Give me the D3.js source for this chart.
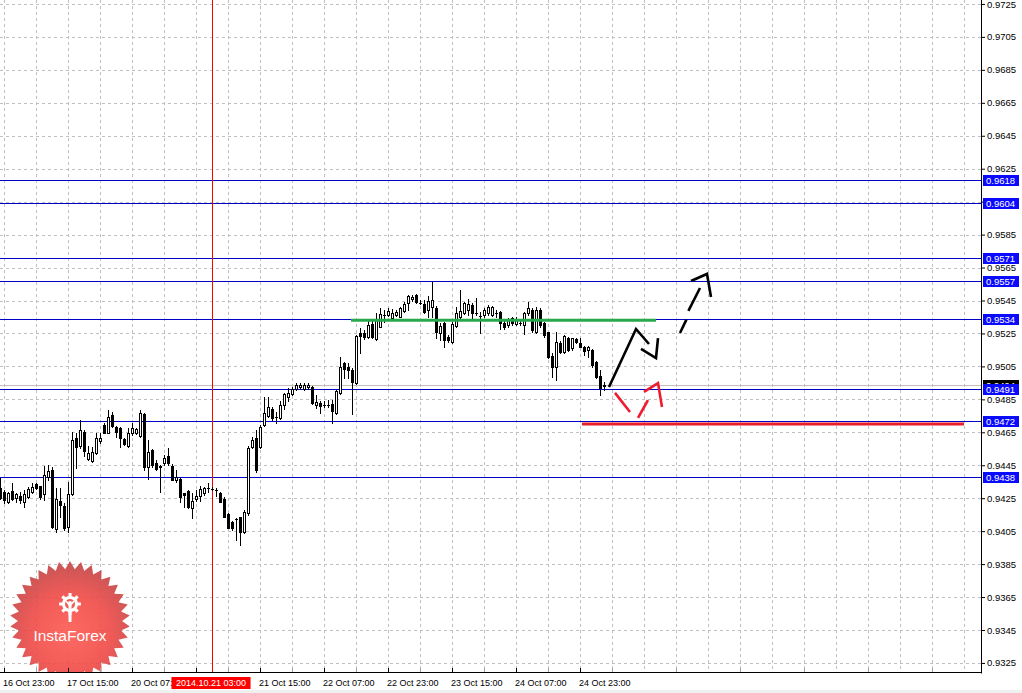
<!DOCTYPE html>
<html><head><meta charset="utf-8">
<script src="https://cdn.jsdelivr.net/npm/d3@7"></script>
<style>
html,body{margin:0;padding:0;background:#fff;}
svg{display:block;}
text{font-family:"Liberation Sans",Arial,sans-serif;}
</style></head><body>
<svg id="c" width="1022" height="693"></svg>
<script>
// ---- DATA (H1 candles) ----
const open=[0.94311,0.94288,0.94227,0.94294,0.94251,0.94264,0.94227,0.94258,0.94288,0.94336,
0.94324,0.94276,0.94379,0.94421,0.94063,0.94233,0.94203,0.94075,0.94276,0.94615,
0.94567,0.94652,0.94488,0.94476,0.94525,0.94597,0.94695,0.94646,0.94755,0.94682,
0.94676,0.94609,0.94567,0.94646,0.94646,0.94627,0.94761,0.94440,0.94543,0.94464,
0.94446,0.94464,0.94507,0.94446,0.94360,0.94366,0.94282,0.94294,0.94191,0.94245,
0.94264,0.94282,0.94311,0.94305,0.94300,0.94282,0.94245,0.94154,0.94106,0.94124,
0.94136,0.94045,0.94160,0.94561,0.94615,0.94561,0.94695,0.94749,0.94791,0.94743,
0.94737,0.94816,0.94864,0.94882,0.94913,0.94925,0.94913,0.94925,0.94925,0.94816,
0.94828,0.94816,0.94816,0.94822,0.94767,0.94888,0.95071,0.95046,0.95028,0.94949,
0.95253,0.95253,0.95229,0.95308,0.95216,0.95290,0.95362,0.95362,0.95344,0.95362,
0.95350,0.95386,0.95435,0.95459,0.95483,0.95435,0.95429,0.95392,0.95410,0.95404,
0.95253,0.95314,0.95229,0.95198,0.95296,0.95350,0.95374,0.95392,0.95423,0.95374,
0.95356,0.95362,0.95374,0.95362,0.95374,0.95380,0.95314,0.95302,0.95344,0.95308,
0.95314,0.95302,0.95374,0.95392,0.95259,0.95392,0.95314,0.95259,0.95113,0.95046,
0.95192,0.95138,0.95222,0.95162,0.95216,0.95192,0.95168,0.95150,0.95150,0.95077,
0.94992,0.94931];
const high=[0.94372,0.94300,0.94288,0.94342,0.94282,0.94288,0.94300,0.94318,0.94342,0.94342,
0.94324,0.94446,0.94452,0.94440,0.94311,0.94311,0.94221,0.94348,0.94652,0.94646,
0.94725,0.94664,0.94567,0.94561,0.94646,0.94646,0.94707,0.94785,0.94773,0.94688,
0.94682,0.94615,0.94676,0.94707,0.94676,0.94785,0.94767,0.94603,0.94549,0.94482,
0.94452,0.94513,0.94555,0.94458,0.94421,0.94372,0.94282,0.94300,0.94282,0.94300,
0.94324,0.94318,0.94342,0.94318,0.94311,0.94288,0.94258,0.94160,0.94112,0.94130,
0.94136,0.94178,0.94567,0.94621,0.94664,0.94695,0.94864,0.94864,0.94803,0.94773,
0.94840,0.94888,0.94919,0.94925,0.94949,0.94949,0.94949,0.94949,0.94931,0.94876,
0.94840,0.94840,0.94846,0.94846,0.94907,0.95107,0.95077,0.95071,0.95040,0.95241,
0.95283,0.95271,0.95332,0.95332,0.95374,0.95404,0.95392,0.95404,0.95398,0.95392,
0.95410,0.95441,0.95483,0.95483,0.95489,0.95453,0.95453,0.95477,0.95562,0.95416,
0.95314,0.95320,0.95241,0.95320,0.95410,0.95514,0.95441,0.95459,0.95435,0.95465,
0.95380,0.95404,0.95423,0.95416,0.95392,0.95386,0.95332,0.95344,0.95350,0.95350,
0.95332,0.95380,0.95441,0.95404,0.95410,0.95404,0.95320,0.95259,0.95132,0.95259,
0.95204,0.95241,0.95229,0.95222,0.95222,0.95222,0.95174,0.95174,0.95156,0.95083,
0.95028,0.94955];
const low=[0.94245,0.94221,0.94221,0.94239,0.94227,0.94221,0.94197,0.94251,0.94282,0.94305,
0.94245,0.94239,0.94360,0.94069,0.94045,0.94136,0.94057,0.94045,0.94270,0.94433,
0.94555,0.94507,0.94482,0.94470,0.94519,0.94585,0.94646,0.94646,0.94682,0.94621,
0.94561,0.94573,0.94561,0.94634,0.94640,0.94621,0.94421,0.94366,0.94440,0.94421,
0.94288,0.94452,0.94452,0.94360,0.94348,0.94227,0.94197,0.94191,0.94130,0.94233,
0.94233,0.94270,0.94288,0.94300,0.94264,0.94227,0.94136,0.94069,0.94057,0.93996,
0.93966,0.94039,0.94148,0.94555,0.94409,0.94555,0.94688,0.94743,0.94725,0.94707,
0.94731,0.94791,0.94840,0.94876,0.94907,0.94919,0.94907,0.94913,0.94822,0.94797,
0.94767,0.94803,0.94803,0.94707,0.94761,0.94882,0.94979,0.94979,0.94761,0.94943,
0.95132,0.95216,0.95222,0.95222,0.95210,0.95290,0.95320,0.95356,0.95338,0.95356,
0.95350,0.95380,0.95392,0.95447,0.95435,0.95429,0.95374,0.95350,0.95350,0.95222,
0.95210,0.95168,0.95198,0.95192,0.95290,0.95332,0.95368,0.95362,0.95332,0.95362,
0.95253,0.95350,0.95362,0.95356,0.95350,0.95277,0.95277,0.95290,0.95302,0.95302,
0.95302,0.95247,0.95362,0.95259,0.95253,0.95290,0.95229,0.95101,0.94985,0.94967,
0.95132,0.95132,0.95144,0.95150,0.95192,0.95168,0.95120,0.95107,0.95046,0.94979,
0.94876,0.94907];
const close=[0.94251,0.94239,0.94282,0.94245,0.94276,0.94239,0.94276,0.94305,0.94318,0.94311,
0.94258,0.94391,0.94415,0.94075,0.94245,0.94209,0.94069,0.94276,0.94603,0.94561,
0.94664,0.94537,0.94525,0.94531,0.94615,0.94615,0.94646,0.94743,0.94688,0.94652,
0.94615,0.94579,0.94646,0.94676,0.94670,0.94767,0.94440,0.94531,0.94452,0.94427,
0.94440,0.94494,0.94464,0.94360,0.94379,0.94258,0.94270,0.94197,0.94233,0.94264,
0.94305,0.94311,0.94311,0.94305,0.94300,0.94227,0.94136,0.94069,0.94069,0.94124,
0.94045,0.94166,0.94555,0.94603,0.94421,0.94682,0.94767,0.94803,0.94737,0.94743,
0.94816,0.94882,0.94888,0.94913,0.94937,0.94937,0.94937,0.94937,0.94828,0.94834,
0.94810,0.94816,0.94816,0.94779,0.94900,0.95046,0.95034,0.95028,0.94955,0.95235,
0.95235,0.95229,0.95302,0.95229,0.95332,0.95368,0.95362,0.95386,0.95374,0.95380,
0.95404,0.95429,0.95477,0.95471,0.95441,0.95435,0.95380,0.95447,0.95453,0.95259,
0.95296,0.95210,0.95210,0.95308,0.95374,0.95386,0.95435,0.95429,0.95374,0.95374,
0.95356,0.95392,0.95410,0.95410,0.95374,0.95314,0.95290,0.95332,0.95314,0.95338,
0.95314,0.95374,0.95404,0.95271,0.95392,0.95302,0.95241,0.95107,0.95046,0.95198,
0.95138,0.95235,0.95150,0.95222,0.95198,0.95168,0.95144,0.95168,0.95058,0.94985,
0.94919,0.94940];

const priceTicks=[0.9725,0.9705,0.9685,0.9665,0.9645,0.9625,0.9605,0.9585,0.9565,0.9545,0.9525,
0.9505,0.9485,0.9465,0.9445,0.9425,0.9405,0.9385,0.9365,0.9345,0.9325];
const priceTickLabels=["0.9725","0.9705","0.9685","0.9665","0.9645","0.9625","","0.9585","0.9565","0.9545","0.9525",
"0.9505","0.9485","0.9465","0.9445","0.9425","0.9405","0.9385","0.9365","0.9345","0.9325"];
const levels=[0.9618,0.9604,0.9571,0.9557,0.9534,0.9491,0.9472,0.9438];
const levelLabels=["0.9618","0.9604","0.9571","0.9557","0.9534","0.9491","0.9472","0.9438"];
const bidPrice=0.9494, bidLabel="0.9494";
const timeTickIdx=[1,17,33,49,65,81,97,113,129,145];
const timeTickLabels=["16 Oct 23:00","17 Oct 15:00","20 Oct 07:00","20 Oct 23:00","21 Oct 15:00",
"22 Oct 07:00","22 Oct 23:00","23 Oct 15:00","24 Oct 07:00","24 Oct 23:00"];
const markerIdx=53, markerLabel="2014.10.21 03:00";
// annotations: [bar index, price]
const greenSeg=[[87.75,0.95330],[164,0.95330]];
const redSeg=[[145.5,0.94700],[241,0.94700]];
const blackSolid=[[152.25,0.94925],[159,0.95277],[162.25,0.95186]];
const blackSolidHead=[[160.25,0.95156],[164,0.95101],[164.5,0.95222]];
const blackDash=[[[170,0.95253],[171.6,0.95334]],[[172.1,0.95387],[175,0.95526]]];
const blackDashHead=[[172.75,0.95568],[176.75,0.95611],[177.75,0.95471]];
const redDash=[[[153.75,0.94889],[157.5,0.94773]],[[159.5,0.94737],[162,0.94846]]];
const redDashHead=[[161,0.94895],[164.5,0.94949],[165.5,0.94804]];

// ---- CHART ----
const W=981, H=673;
const svg=d3.select("#c");
const x=d3.scaleLinear().domain([0,245]).range([0,980]);
const y=d3.scaleLinear().domain([0.93189,0.97274]).range([H,0]);
const px=v=>Math.round(x(v))+0.5, py=v=>Math.round(y(v))+0.5;

svg.append("rect").attr("x",0).attr("y",690).attr("width",1022).attr("height",3).attr("fill","#f0f0f0");
svg.append("defs").html(`<clipPath id="clp"><rect x="0" y="0" width="${W}" height="${H}"/></clipPath>
<radialGradient id="lg" cx="50%" cy="60%" r="55%"><stop offset="0" stop-color="#ff5a52"/><stop offset="0.6" stop-color="#f04a46"/><stop offset="1" stop-color="#c94444"/></radialGradient>`);
const g=svg.append("g").attr("clip-path","url(#clp)");

// grid
g.selectAll(".hg").data(priceTicks).join("line").attr("x1",0).attr("x2",W)
 .attr("y1",d=>py(d)).attr("y2",d=>py(d)).attr("stroke","#c0c0c0").attr("stroke-dasharray","3,3");
const vg=d3.range(1,245,8);
g.selectAll(".vg").data(vg).join("line").attr("y1",0).attr("y2",H)
 .attr("x1",d=>px(d)).attr("x2",d=>px(d)).attr("stroke","#c0c0c0").attr("stroke-dasharray","3,3");

// logo
const lgG=g.append("g").attr("opacity",0.9);
const cx0=70, cy0=621, nP=34, rO=60, rI=52;
const starPts=d3.range(nP*2).map(i=>{const a=Math.PI*i/nP - Math.PI/2; const r=i%2?rI:rO; return [cx0+r*Math.cos(a),cy0+r*Math.sin(a)];});
lgG.append("path").attr("d","M"+starPts.join("L")+"Z").attr("fill","url(#lg)");
const gx=70, gy=604, nT=8;
const gearPts=[];
for(let i=0;i<nT;i++){const a0=2*Math.PI*i/nT;
 [[-0.2,8],[-0.14,11],[0.14,11],[0.2,8],[0.39,8]].forEach(([da,r])=>{const a=a0+da; gearPts.push([gx+r*Math.cos(a),gy+r*Math.sin(a)]);});}
lgG.append("path").attr("d","M"+gearPts.join("L")+"Z").attr("fill","#fff");
lgG.append("circle").attr("cx",gx).attr("cy",gy).attr("r",5).attr("fill","#ee4a46");
lgG.append("circle").attr("cx",gx).attr("cy",gy-1).attr("r",2).attr("fill","#fff");
lgG.append("path").attr("d",`M${gx-4},${gy-3}L${gx},${gy+2}L${gx+4},${gy-3}`).attr("stroke","#fff").attr("stroke-width",1.6).attr("fill","none");
lgG.append("rect").attr("x",gx-1.5).attr("y",gy+1).attr("width",3).attr("height",17).attr("fill","#fff");
lgG.append("text").attr("x",70).attr("y",641).attr("text-anchor","middle").attr("fill","#fff")
 .attr("font-size","15.5px").text("InstaForex");

// level lines
g.selectAll(".lv").data(levels).join("line").attr("x1",0).attr("x2",W)
 .attr("y1",d=>py(d)).attr("y2",d=>py(d)).attr("stroke","#0000c8");
g.append("line").attr("x1",0).attr("x2",W).attr("y1",py(bidPrice)).attr("y2",py(bidPrice)).attr("stroke","#c0c0c0");
// marker line
g.append("line").attr("x1",px(markerIdx)).attr("x2",px(markerIdx)).attr("y1",0).attr("y2",H).attr("stroke","#ff0000");

// candles
const bars=d3.range(open.length).map(i=>({i,o:open[i],h:high[i],l:low[i],c:close[i]}));
const cg=g.append("g");
cg.selectAll(".wk").data(bars).join("line")
 .attr("x1",d=>px(d.i)).attr("x2",d=>px(d.i))
 .attr("y1",d=>Math.round(y(d.h))).attr("y2",d=>Math.round(y(d.l))+1).attr("stroke","#000");
bars.forEach(d=>{
 const yo=Math.round(y(d.o)), yc=Math.round(y(d.c));
 const t=Math.min(yo,yc), b=Math.max(yo,yc); const X=Math.round(x(d.i));
 if(b-t<1){
   cg.append("line").attr("x1",X-1).attr("x2",X+2).attr("y1",t+0.5).attr("y2",t+0.5).attr("stroke","#000");
 } else {
   cg.append("rect").attr("x",X-0.5).attr("y",t+0.5).attr("width",2).attr("height",b-t)
    .attr("fill",d.c>=d.o?"#fff":"#000").attr("stroke","#000");
 }
});

// annotations
const ln=d3.line().x(d=>x(d[0])).y(d=>y(d[1]));
g.append("path").attr("d",ln(greenSeg)).attr("stroke","#28a84a").attr("stroke-width",3).attr("fill","none");
g.append("path").attr("d",ln(redSeg)).attr("stroke","#e8202a").attr("stroke-width",3).attr("fill","none");
const drawP=(pts,col)=>g.append("path").attr("d",ln(pts)).attr("stroke",col).attr("stroke-width",2.6)
 .attr("fill","none").attr("stroke-linejoin","miter").attr("stroke-linecap","butt");
drawP(blackSolid,"#000"); drawP(blackSolidHead,"#000");
blackDash.forEach(s=>drawP(s,"#000")); drawP(blackDashHead,"#000");
redDash.forEach(s=>drawP(s,"#ee1c2e")); drawP(redDashHead,"#ee1c2e");

// axes
const yAx=d3.axisRight(y).tickValues(priceTicks).tickFormat((d,i)=>priceTickLabels[i]).tickSize(4).tickPadding(2);
const ya=svg.append("g").attr("transform",`translate(${W},0)`).call(yAx);
ya.select(".domain").attr("d",`M0.5,0V${H+0.5}`).attr("stroke","#000");
ya.selectAll("text").attr("font-size","9.5px").attr("fill","#000").attr("font-family","Liberation Sans, Arial");
ya.selectAll("line").attr("stroke","#000");

const xAx=d3.axisBottom(x).tickValues(timeTickIdx).tickFormat((d,i)=>timeTickLabels[i]).tickSizeInner(-5).tickSizeOuter(0).tickPadding(7);
const xa=svg.append("g").attr("transform",`translate(0,${H})`).call(xAx);
xa.select(".domain").attr("d",`M0,-0.5H${W+1}`).attr("stroke","#000");
xa.selectAll("text").attr("font-size","9px").attr("fill","#000").attr("text-anchor","start").attr("dx","-1.5")
 .attr("font-family","Liberation Sans, Arial");
xa.selectAll("line").attr("stroke","#000");
// minor ticks
const minor=d3.range(9,245,16);
svg.selectAll(".mt").data(minor).join("line").attr("x1",d=>px(d)).attr("x2",d=>px(d))
 .attr("y1",H-5).attr("y2",H-1).attr("stroke","#a0a0a0");

// right price labels
const lab=svg.append("g");
const by=Math.round(y(bidPrice));
lab.append("rect").attr("x",983).attr("y",by-5).attr("width",36).attr("height",11).attr("fill","#000");
lab.append("text").attr("x",986).attr("y",by+4).attr("fill","#fff").attr("font-size","9.5px").text(bidLabel);
levels.forEach((v,i)=>{
 const yy=Math.round(y(v));
 lab.append("rect").attr("x",983).attr("y",yy-5).attr("width",36).attr("height",11).attr("fill","#0a0aff");
 lab.append("text").attr("x",986).attr("y",yy+4).attr("fill","#fff").attr("font-size","9.5px").text(levelLabels[i]);
});

// marker label
const mx=Math.round(x(markerIdx));
const mg=svg.append("g");
const mr=mg.append("rect").attr("y",H+4).attr("height",12).attr("fill","#ff0000");
const mt=mg.append("text").attr("x",mx-1).attr("y",H+13).attr("fill","#fff").attr("font-size","9px").attr("text-anchor","middle").text(markerLabel);
const tw=mt.node().getComputedTextLength();
mr.attr("x",mx-1-tw/2-4.5).attr("width",tw+9);
</script></body></html>
